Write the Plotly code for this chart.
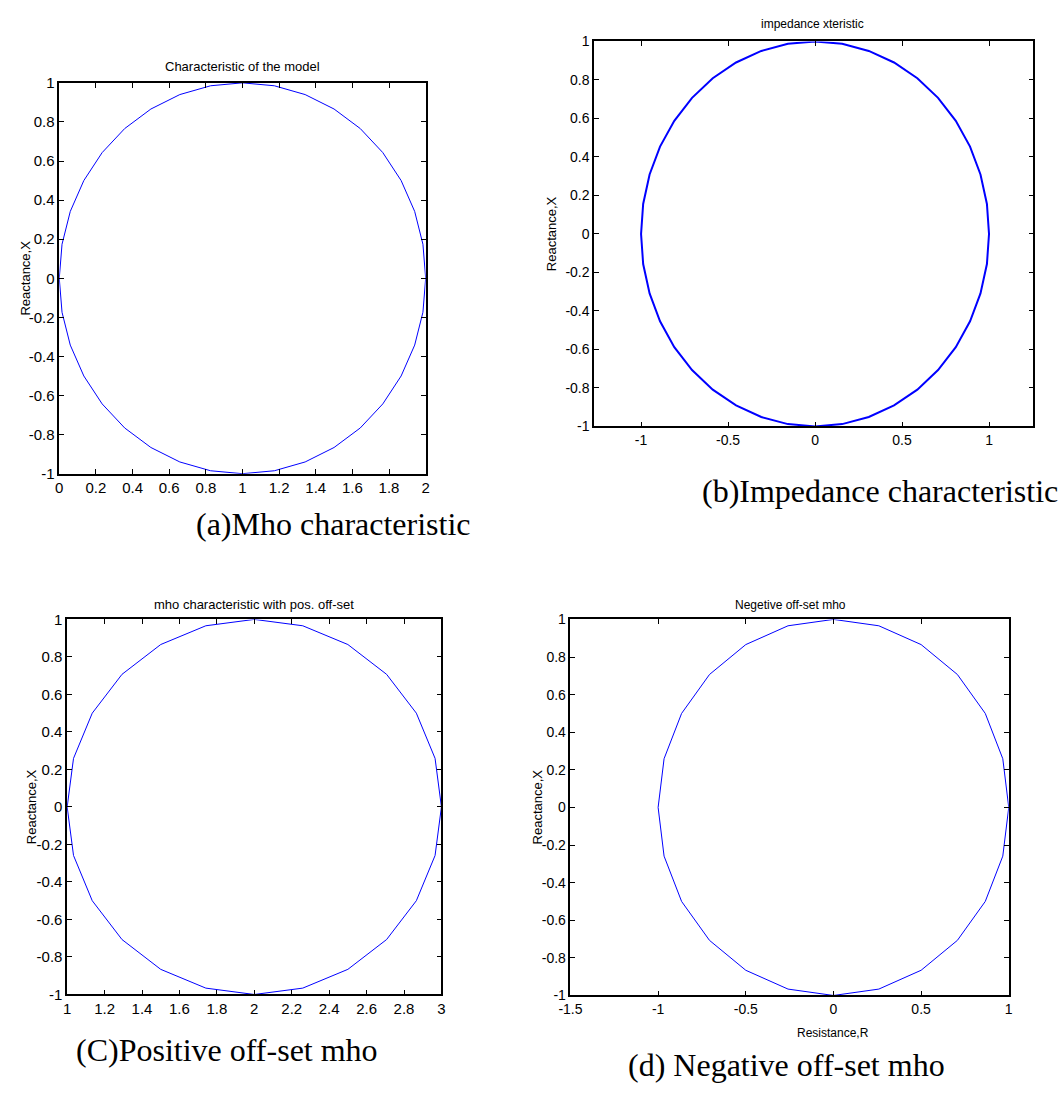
import plotly.graph_objects as go

W, H = 1062, 1097

# (a) Mho characteristic: circle centred (1,0), radius 1
mho_x = [2, 1.985, 1.940, 1.866, 1.766, 1.643, 1.5, 1.342, 1.174, 1.0, 0.826, 0.658, 0.5, 0.357, 0.234,
         0.134, 0.060, 0.015, 0, 0.015, 0.060, 0.134, 0.234, 0.357, 0.5, 0.658, 0.826, 1.0, 1.174, 1.342,
         1.5, 1.643, 1.766, 1.866, 1.940, 1.985, 2]
mho_y = [0, 0.174, 0.342, 0.5, 0.643, 0.766, 0.866, 0.940, 0.985, 1, 0.985, 0.940, 0.866, 0.766, 0.643,
         0.5, 0.342, 0.174, 0, -0.174, -0.342, -0.5, -0.643, -0.766, -0.866, -0.940, -0.985, -1, -0.985,
         -0.940, -0.866, -0.766, -0.643, -0.5, -0.342, -0.174, 0]

# (b) Impedance characteristic: circle centred (0,0), radius 1
imp_x = [1, 0.988, 0.951, 0.891, 0.809, 0.707, 0.588, 0.454, 0.309, 0.156, 0, -0.156, -0.309, -0.454,
         -0.588, -0.707, -0.809, -0.891, -0.951, -0.988, -1, -0.988, -0.951, -0.891, -0.809, -0.707,
         -0.588, -0.454, -0.309, -0.156, 0, 0.156, 0.309, 0.454, 0.588, 0.707, 0.809, 0.891, 0.951, 0.988, 1]
imp_y = [0, 0.156, 0.309, 0.454, 0.588, 0.707, 0.809, 0.891, 0.951, 0.988, 1, 0.988, 0.951, 0.891, 0.809,
         0.707, 0.588, 0.454, 0.309, 0.156, 0, -0.156, -0.309, -0.454, -0.588, -0.707, -0.809, -0.891,
         -0.951, -0.988, -1, -0.988, -0.951, -0.891, -0.809, -0.707, -0.588, -0.454, -0.309, -0.156, 0]

# (c) Positive off-set mho: centred (2,0)
pos_x = [3, 2.966, 2.866, 2.707, 2.5, 2.259, 2, 1.741, 1.5, 1.293, 1.134, 1.034, 1, 1.034, 1.134, 1.293,
         1.5, 1.741, 2, 2.259, 2.5, 2.707, 2.866, 2.966, 3]
pos_y = [0, 0.259, 0.5, 0.707, 0.866, 0.966, 1, 0.966, 0.866, 0.707, 0.5, 0.259, 0, -0.259, -0.5, -0.707,
         -0.866, -0.966, -1, -0.966, -0.866, -0.707, -0.5, -0.259, 0]

# (d) Negative off-set mho: centred (0,0)
neg_x = [1, 0.966, 0.866, 0.707, 0.5, 0.259, 0, -0.259, -0.5, -0.707, -0.866, -0.966, -1, -0.966, -0.866,
         -0.707, -0.5, -0.259, 0, 0.259, 0.5, 0.707, 0.866, 0.966, 1]
neg_y = [0, 0.259, 0.5, 0.707, 0.866, 0.966, 1, 0.966, 0.866, 0.707, 0.5, 0.259, 0, -0.259, -0.5, -0.707,
         -0.866, -0.966, -1, -0.966, -0.866, -0.707, -0.5, -0.259, 0]

y_ticks = [1, 0.8, 0.6, 0.4, 0.2, 0, -0.2, -0.4, -0.6, -0.8, -1]
y_labels = ["1", "0.8", "0.6", "0.4", "0.2", "0", "-0.2", "-0.4", "-0.6", "-0.8", "-1"]
xa_ticks = [0, 0.2, 0.4, 0.6, 0.8, 1, 1.2, 1.4, 1.6, 1.8, 2]
xa_labels = ["0", "0.2", "0.4", "0.6", "0.8", "1", "1.2", "1.4", "1.6", "1.8", "2"]
xb_ticks = [-1, -0.5, 0, 0.5, 1]
xb_labels = ["-1", "-0.5", "0", "0.5", "1"]
xc_ticks = [1, 1.2, 1.4, 1.6, 1.8, 2, 2.2, 2.4, 2.6, 2.8, 3]
xc_labels = ["1", "1.2", "1.4", "1.6", "1.8", "2", "2.2", "2.4", "2.6", "2.8", "3"]
xd_ticks = [-1.5, -1, -0.5, 0, 0.5, 1]
xd_labels = ["-1.5", "-1", "-0.5", "0", "0.5", "1"]

def px(x):
    return x / W

def py(y):
    return 1 - y / H

fig = go.Figure()
blue = "#0000ff"
fig.add_trace(go.Scatter(x=mho_x, y=mho_y, mode="lines", line=dict(color=blue, width=1),
                         xaxis="x", yaxis="y", showlegend=False))
fig.add_trace(go.Scatter(x=imp_x, y=imp_y, mode="lines", line=dict(color=blue, width=2),
                         xaxis="x2", yaxis="y2", showlegend=False))
fig.add_trace(go.Scatter(x=pos_x, y=pos_y, mode="lines", line=dict(color=blue, width=1),
                         xaxis="x3", yaxis="y3", showlegend=False))
fig.add_trace(go.Scatter(x=neg_x, y=neg_y, mode="lines", line=dict(color=blue, width=1),
                         xaxis="x4", yaxis="y4", showlegend=False))

NARROW = "Liberation Sans Narrow, Arial Narrow, Arial, Liberation Sans, sans-serif"
NORMAL = "Arial, Liberation Sans, sans-serif"
font_narrow = dict(family=NARROW, size=15, color="black")
font_normal = dict(family=NORMAL, size=14, color="black")

def ax(domain, rng, tv, tt, anchor, f):
    return dict(domain=domain, range=rng, tickvals=tv, ticktext=tt, anchor=anchor,
                showline=True, mirror="ticks", linecolor="black", linewidth=1.5,
                ticks="inside", ticklen=5, tickcolor="black", showgrid=False, zeroline=False,
                tickfont=f, fixedrange=True)

boxes = {
    "a": (48, 420, 75, 472),
    "b": (591, 1037, 33, 424),
    "c": (56, 436, 620, 1001),
    "d": (567, 1012, 620, 1002),
}

def dom(b):
    l, r, t, bt = b
    return [px(l), px(r)], [py(bt), py(t)]

da = dom(boxes["a"]); db = dom(boxes["b"]); dc = dom(boxes["c"]); dd = dom(boxes["d"])

fig.update_layout(
    width=W, height=H, margin=dict(l=0, r=0, t=0, b=0),
    paper_bgcolor="white", plot_bgcolor="white",
    xaxis=ax(da[0], [0, 2], xa_ticks, xa_labels, "y", font_narrow),
    yaxis=ax(da[1], [-1, 1], y_ticks, y_labels, "x", font_narrow),
    xaxis2=ax(db[0], [-1.27, 1.255], xb_ticks, xb_labels, "y2", font_normal),
    yaxis2=ax(db[1], [-1, 1], y_ticks, y_labels, "x2", font_normal),
    xaxis3=ax(dc[0], [1, 3], xc_ticks, xc_labels, "y3", font_narrow),
    yaxis3=ax(dc[1], [-1, 1], y_ticks, y_labels, "x3", font_narrow),
    xaxis4=ax(dd[0], [-1.5, 1], xd_ticks, xd_labels, "y4", font_normal),
    yaxis4=ax(dd[1], [-1, 1], y_ticks, y_labels, "x4", font_normal),
)

t_narrow = dict(family=NARROW, size=13, color="black")
t_normal = dict(family=NORMAL, size=12, color="black")
ylab = dict(family=NORMAL, size=13, color="black")
serif = dict(family="Times New Roman, Liberation Serif, serif", size=32, color="black")

texts = [
    ("Characteristic of the model", 234, 58, t_narrow, 0),
    ("Reactance,X", 14, 273, ylab, -90),
    ("impedance xteristic", 813, 15, t_normal, 0),
    ("Reactance,X", 548, 228, ylab, -90),
    ("mho characteristic with pos. off-set", 246, 605, t_narrow, 0),
    ("Reactance,X", 20, 810, ylab, -90),
    ("Negetive off-set mho", 790, 605, t_normal, 0),
    ("Reactance,X", 533, 810, ylab, -90),
    ("Resistance,R", 834, 1040, t_normal, 0),
    ("(a)Mho characteristic", 326, 523, serif, 0),
    ("(b)Impedance characteristic", 881, 490, serif, 0),
    ("(C)Positive off-set mho", 218, 1057, serif, 0),
    ("(d) Negative off-set mho", 786, 1073, serif, 0),
]
for t, x, y, f, ang in texts:
    fig.add_annotation(text=t, x=px(x), y=py(y), xref="paper", yref="paper",
                       xanchor="center", yanchor="middle", showarrow=False, font=f, textangle=ang)

fig.write_html("out.html")
